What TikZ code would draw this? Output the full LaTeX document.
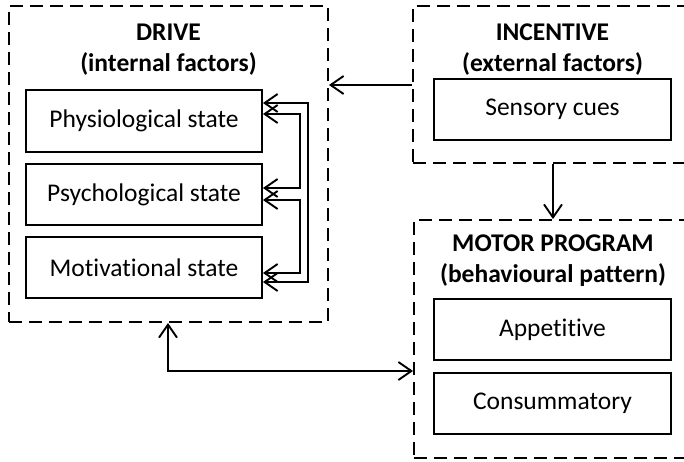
\documentclass[tikz,border=0pt]{standalone}
\usepackage{fontspec}
\setmainfont{Carlito}[RawFeature=-liga]
\usetikzlibrary{arrows.meta}
\begin{document}
\begin{tikzpicture}[x=1pt,y=-1pt,
  >={Straight Barb[length=13pt,width=18pt]},
  solidbox/.style={draw, line width=1.9pt, inner sep=0pt, font=\fontsize{25.5}{30}\selectfont},
  dbox/.style={draw, line width=1.9pt, dash pattern=on 13pt off 7pt, inner sep=0pt},
  head/.style={align=center, font=\bfseries\fontsize{25.5}{31}\selectfont, inner sep=0pt},
  conn/.style={line width=1.9pt},
]
\useasboundingbox (0,0) rectangle (684,461);
% containers
\node[dbox, minimum width=319pt, minimum height=316pt] (drive) at (168.5,164) {};
\node[dbox, minimum width=280pt, minimum height=157pt] (inc) at (553,84.5) {};
\node[dbox, minimum width=280pt, minimum height=238pt] (motor) at (554,339) {};
% headings
\node[head] (driveh) at (168.5,50) {DRIVE\\(internal factors)};
\node[head] (inch) at (552.5,50) {INCENTIVE\\(external factors)};
\node[head] (motorh) at (553,261) {MOTOR PROGRAM\\(behavioural pattern)};
% inner boxes
\node[solidbox, minimum width=236pt, minimum height=62pt] (phys) at (144,121) {Physiological state};
\node[solidbox, minimum width=236pt, minimum height=61pt] (psy) at (144,194.5) {Psychological state};
\node[solidbox, minimum width=236pt, minimum height=61pt] (mot) at (144,267.5) {Motivational state};
\node[solidbox, minimum width=237pt, minimum height=61pt] (sens) at (552.5,109.5) {Sensory cues};
\node[solidbox, minimum width=237pt, minimum height=61pt] (app) at (552.5,329.5) {Appetitive};
\node[solidbox, minimum width=237pt, minimum height=61pt] (cons) at (552.5,403.5) {Consummatory};
% connectors
\draw[conn, <->] (phys.east |- 0,103) -- (308,103) -- (308,282) -- (mot.east |- 0,282);
\draw[conn, <->] (phys.east |- 0,114) -- (300,114) -- (300,188) -- (psy.east |- 0,188);
\draw[conn, <->] (psy.east |- 0,200) -- (300,200) -- (300,273) -- (mot.east |- 0,273);
\draw[conn, ->] (inc.west |- 0,85) -- (drive.east |- 0,85);
\draw[conn, ->] (inc.south -| 553,0) -- (motor.north -| 553,0);
\draw[conn, <->] (drive.south -| 168,0) -- (168,371) -- (motor.west |- 0,371);
\end{tikzpicture}
\end{document}
